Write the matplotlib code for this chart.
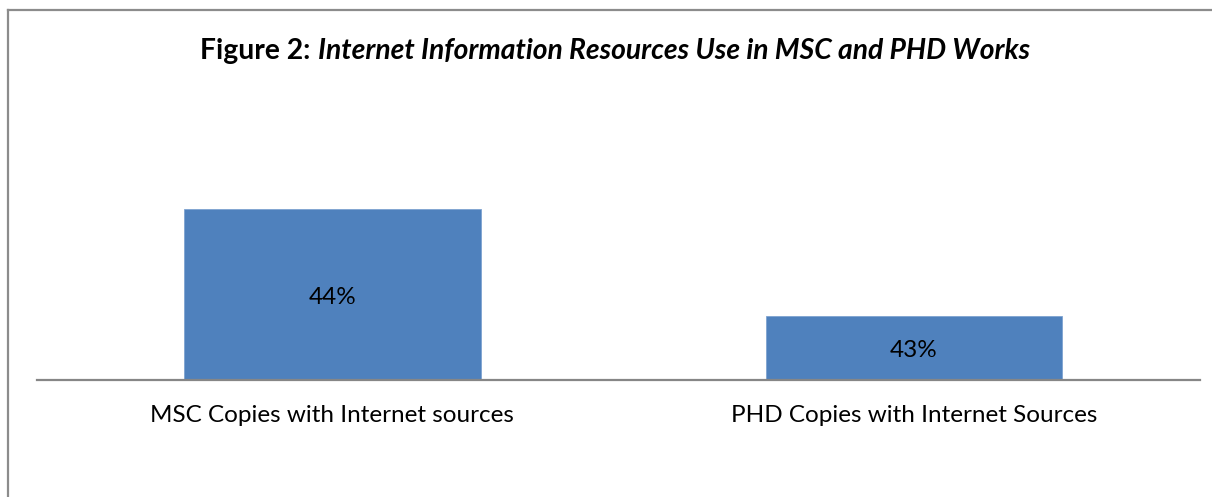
import matplotlib
matplotlib.use("Agg")
import matplotlib.pyplot as plt
from matplotlib.lines import Line2D

# data
categories = ["MSC Copies with Internet sources", "PHD Copies with Internet Sources"]
values = [0.44, 0.43]
labels = ["44%", "43%"]

plt.rcParams['font.family'] = ['Lato', 'DejaVu Sans']

W, H = 1212, 497
fig = plt.figure(figsize=(W / 100, H / 100), dpi=100)

# chart border (only top and left visible in the crop)
fig.add_artist(Line2D([7.5 / W, 7.5 / W], [0, 1 - 9.5 / H], transform=fig.transFigure,
                      color="#8c8c8c", lw=1.6))
fig.add_artist(Line2D([7.5 / W, 1], [1 - 9.5 / H, 1 - 9.5 / H], transform=fig.transFigure,
                      color="#8c8c8c", lw=1.6))

ax = fig.add_axes([37 / W, 1 - 380 / H, (1200 - 37) / W, (380 - 102) / H])
ymin, ymax = 0.424, 0.45
x = range(len(categories))
ax.bar(x, [v - ymin for v in values], bottom=ymin, width=0.51,
       color="#4F81BD", edgecolor="#7ea3d1", linewidth=0.6)
ax.set_xlim(-0.508, len(categories) - 0.508)
ax.set_ylim(ymin, ymax)

# value labels in the middle of each bar (nudged down a touch like Excel)
for i, (v, lab) in enumerate(zip(values, labels)):
    ax.annotate(lab, (i, (ymin + v) / 2), xytext=(0, -2), textcoords="offset points",
                ha="center", va="center", fontsize=17.5, color="black")

ax.set_xticks(list(x))
ax.set_xticklabels(categories, fontsize=17.5)
ax.tick_params(axis="x", length=0, pad=18)
ax.set_yticks([])
for s in ["top", "right", "left"]:
    ax.spines[s].set_visible(False)
ax.spines["bottom"].set_color("#868686")
ax.spines["bottom"].set_linewidth(1.6)

# title: bold prefix + bold italic rest, centred together
ty = 1 - 51 / H
t1 = fig.text(0, ty, "Figure 2: ", fontsize=20.3, fontweight="bold", va="center")
t2 = fig.text(0, ty, "Internet Information Resources Use in MSC and PHD Works",
              fontsize=20.3, fontweight="bold", fontstyle="italic", va="center")
r = fig.canvas.get_renderer()
w1 = t1.get_window_extent(r).width / W
w2 = t2.get_window_extent(r).width / W
x0 = 615 / W - (w1 + w2) / 2
t1.set_x(x0)
t2.set_x(x0 + w1)

fig.savefig("out.png", dpi=100)
